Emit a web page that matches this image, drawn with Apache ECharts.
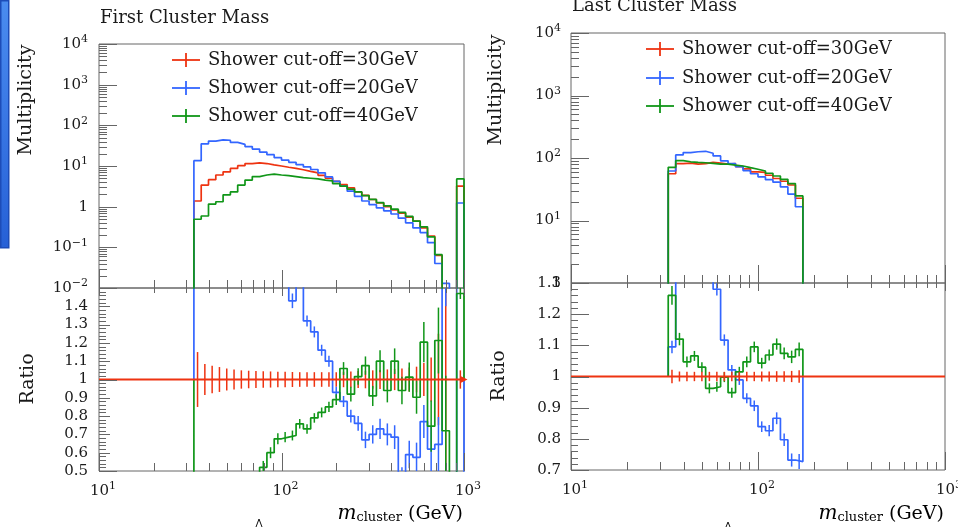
<!DOCTYPE html>
<html><head><meta charset="utf-8">
<script src="https://cdn.jsdelivr.net/npm/echarts@6/dist/echarts.min.js"></script>
<style>html,body{margin:0;padding:0;background:#fff}#c{width:958px;height:527px}</style>
</head><body><div id="c"></div>
<script>
// ---------------- DATA ----------------
const binEdges = [33.11, 36.31, 39.81, 43.65, 47.86, 52.48, 57.54, 63.10, 69.18, 75.86, 83.18, 91.20, 100.0, 109.6, 120.2, 131.8, 144.5, 158.5, 173.8, 190.5, 208.9, 229.1, 251.2, 275.4, 302.0, 331.1, 363.1, 398.1, 436.5, 478.6, 524.8, 575.4, 631.0, 691.8, 758.6, 831.8, 912.0, 1000];
const seriesNames = ['Shower cut-off=30GeV', 'Shower cut-off=20GeV', 'Shower cut-off=40GeV'];
const panelTitles = ['First Cluster Mass', 'Last Cluster Mass'];

// First cluster mass: multiplicity per bin
const firstRed   = [1.38, 3.4, 4.6, 6.0, 7.2, 8.7, 10.2, 11.5, 12.0, 11.5, 10.7, 10.0, 9.3, 8.7, 8.1, 7.4, 6.8, 5.9, 5.0, 4.2, 3.5, 2.9, 2.3, 1.9, 1.5, 1.23, 1.0, 0.83, 0.69, 0.55, 0.44, 0.30, 0.19, 0.063, 0, 0, 3.2];
const firstBlue  = [13.5, 35, 41, 44, 43, 38, 34, 30, 26, 22, 19, 16, 14.0, 12.3, 10.8, 9.5, 8.2, 6.8, 5.4, 4.2, 3.2, 2.4, 1.8, 1.38, 1.12, 0.93, 0.79, 0.66, 0.52, 0.40, 0.30, 0.23, 0.13, 0.04, 0.013, 0, 1.23];
const firstGreen = [0.49, 0.59, 1.16, 1.32, 1.95, 2.3, 3.4, 4.5, 5.5, 6.0, 6.3, 6.0, 5.8, 5.5, 5.2, 5.0, 4.8, 4.5, 4.3, 3.7, 3.2, 2.7, 2.3, 1.86, 1.51, 1.26, 1.05, 0.87, 0.72, 0.58, 0.44, 0.32, 0.18, 0.066, 0, 0, 4.8];
// First cluster mass: ratios to the 30 GeV sample
const firstRatioBlue  = [9.8, 10.3, 8.9, 7.3, 6.0, 4.4, 3.3, 2.6, 2.2, 1.9, 1.8, 1.6, 1.55, 1.43, 1.55, 1.32, 1.26, 1.16, 1.10, 0.93, 0.88, 0.80, 0.76, 0.67, 0.70, 0.73, 0.70, 0.685, 0.45, 0.59, 0.575, 0.77, 0.62, 0.645, 1.7, 1.7, 0.38];
const firstRatioGreen = [0.36, 0.17, 0.25, 0.22, 0.27, 0.26, 0.33, 0.39, 0.46, 0.52, 0.60, 0.676, 0.685, 0.694, 0.758, 0.73, 0.79, 0.82, 0.85, 0.89, 1.06, 0.92, 1.016, 1.076, 0.91, 1.10, 0.94, 1.10, 0.94, 1.013, 0.903, 1.204, 0.745, 1.213, 0.72, 0.3, 1.47];
const firstErrRed   = [0.15, 0.085, 0.075, 0.068, 0.06, 0.055, 0.05, 0.048, 0.046, 0.045, 0.044, 0.043, 0.042, 0.041, 0.04, 0.04, 0.04, 0.04, 0.04, 0.04, 0.042, 0.044, 0.046, 0.048, 0.05, 0.052, 0.055, 0.058, 0.06, 0.065, 0.07, 0.09, 0.12, 0.25, 0.6, 0, 0.05];
const firstErrBlue  = [0.3, 0.2, 0.15, 0.12, 0.1, 0.08, 0.06, 0.05, 0.05, 0.045, 0.04, 0.04, 0.04, 0.04, 0.035, 0.03, 0.03, 0.03, 0.03, 0.03, 0.03, 0.035, 0.04, 0.045, 0.05, 0.055, 0.06, 0.065, 0.07, 0.075, 0.08, 0.09, 0.12, 0.15, 0.3, 0, 0.05];
const firstErrGreen = [0.1, 0.08, 0.07, 0.06, 0.05, 0.05, 0.045, 0.04, 0.04, 0.035, 0.03, 0.03, 0.028, 0.027, 0.026, 0.026, 0.026, 0.027, 0.028, 0.03, 0.035, 0.04, 0.045, 0.05, 0.055, 0.06, 0.065, 0.07, 0.075, 0.08, 0.09, 0.11, 0.14, 0.18, 0.3, 0, 0.03];

// Last cluster mass (18 bins, same binning)
const lastRed   = [56, 81, 83, 80, 81.5, 85, 83, 80, 81, 73, 67, 60, 59, 53, 47, 42.5, 37, 22.7];
const lastBlue  = [62, 112, 122, 126, 128, 119, 108, 90, 81, 72.6, 63, 56, 50, 45, 41, 34.5, 26.5, 16.6];
const lastGreen = [71, 90.6, 87, 85, 84, 82, 80, 80, 77, 74.5, 70, 66, 62, 57, 51.5, 45.6, 39, 24.7];
const lastRatioBlue  = [1.095, 1.38, 1.47, 1.57, 1.58, 1.47, 1.28, 1.117, 1.021, 0.989, 0.930, 0.906, 0.839, 0.826, 0.866, 0.797, 0.732, 0.727];
const lastRatioGreen = [1.26, 1.12, 1.047, 1.066, 1.03, 0.962, 0.967, 0.998, 0.948, 1.015, 1.047, 1.095, 1.043, 1.069, 1.104, 1.074, 1.063, 1.087];
const lastErrRed   = [0.022, 0.016, 0.015, 0.015, 0.015, 0.015, 0.015, 0.015, 0.015, 0.015, 0.015, 0.015, 0.016, 0.016, 0.017, 0.017, 0.018, 0.02];
const lastErrBlue  = [0.02, 0.02, 0.02, 0.02, 0.02, 0.02, 0.02, 0.018, 0.016, 0.016, 0.016, 0.017, 0.017, 0.018, 0.019, 0.02, 0.021, 0.024];
const lastErrGreen = [0.03, 0.02, 0.017, 0.016, 0.016, 0.016, 0.016, 0.016, 0.016, 0.016, 0.017, 0.017, 0.017, 0.018, 0.018, 0.019, 0.02, 0.022];
const refRatio = 1;

// Tick labels
const xLabelVals = [10, 100, 1000];
const xLabels = [['10', '1'], ['10', '2'], ['10', '3']];
const yTopLeftVals = [0.01, 0.1, 1, 10, 100, 1000, 10000];
const yTopLeftLabels = [['10', '−2'], ['10', '−1'], ['1', ''], ['10', '1'], ['10', '2'], ['10', '3'], ['10', '4']];
const yTopRightVals = [1, 10, 100, 1000, 10000];
const yTopRightLabels = [['1', ''], ['10', '1'], ['10', '2'], ['10', '3'], ['10', '4']];
const yRatioLeftVals = [0.5, 0.6, 0.7, 0.8, 0.9, 1.0, 1.1, 1.2, 1.3, 1.4];
const yRatioLeftLabels = [['0.5'], ['0.6'], ['0.7'], ['0.8'], ['0.9'], ['1'], ['1.1'], ['1.2'], ['1.3'], ['1.4']];
const yRatioRightVals = [0.7, 0.8, 0.9, 1.0, 1.1, 1.2, 1.3];
const yRatioRightLabels = [['0.7'], ['0.8'], ['0.9'], ['1'], ['1.1'], ['1.2'], ['1.3']];

// ---------------- STYLE / HELPERS ----------------
const FONT = "'DejaVu Serif', 'Liberation Serif', serif";
const COLORS = ['#ee3311', '#3366ff', '#109618'];
const FRAME = '#666';
const TXT = '#1a1a1a';
const RICH = {
  b: { fontFamily: FONT, fontSize: 15, color: TXT },
  s: { fontFamily: FONT, fontSize: 11, color: TXT, padding: [0, 0, 9, 0] }
};

function stepLine(gi, color, vals, startV, endV, floor, z) {
  const e = binEdges;
  const pts = [[e[0], startV]];
  for (let i = 0; i < vals.length; i++) {
    const v = vals[i] > 0 ? vals[i] : floor;
    pts.push([e[i], v], [e[i + 1], v]);
  }
  pts.push([e[vals.length], endV]);
  return { type: 'line', xAxisIndex: gi, yAxisIndex: gi, data: pts, symbol: 'none', silent: true,
    clip: true, z: z, lineStyle: { color: color, width: 1.7 }, animation: false };
}

function errBars(gi, color, vals, errs, z) {
  const e = binEdges;
  const data = vals.map((v, i) => [Math.sqrt(e[i] * e[i + 1]), v, errs[i]]);
  return { type: 'custom', xAxisIndex: gi, yAxisIndex: gi, data: data, z: z, silent: true, clip: true,
    renderItem(params, api) {
      const x = api.value(0), v = api.value(1), er = api.value(2);
      if (!(er > 0)) return null;
      const a = api.coord([x, v + er]), b = api.coord([x, v - er]);
      return { type: 'line', shape: { x1: a[0], y1: a[1], x2: b[0], y2: b[1] },
        style: { stroke: color, lineWidth: 1.5 } };
    } };
}

function tickSeries(gi, dim, side, ticks, ref) {
  const data = ticks.map(t => dim === 'x' ? [t[0], ref, t[1]] : [ref, t[0], t[1]]);
  return { type: 'custom', xAxisIndex: gi, yAxisIndex: gi, data: data, z: 8, silent: true, clip: false,
    renderItem(params, api) {
      const cs = params.coordSys, len = api.value(2);
      const p = api.coord([api.value(0), api.value(1)]);
      let x1, y1, x2, y2;
      if (dim === 'x') {
        x1 = x2 = Math.round(p[0]) + 0.5;
        if (side === 'bottom') { y1 = cs.y + cs.height; y2 = y1 - len; }
        else { y1 = cs.y; y2 = y1 + len; }
      } else {
        y1 = y2 = Math.round(p[1]) + 0.5;
        x1 = cs.x; x2 = cs.x + len;
      }
      return { type: 'line', shape: { x1, y1, x2, y2 }, style: { stroke: FRAME, lineWidth: 1 } };
    } };
}

function labelSeries(gi, dim, vals, labels, ref, off) {
  const data = vals.map(v => dim === 'x' ? [v, ref] : [ref, v]);
  return { type: 'custom', xAxisIndex: gi, yAxisIndex: gi, data: data, z: 9, silent: true, clip: false,
    renderItem(params, api) {
      const cs = params.coordSys;
      const p = api.coord([api.value(0), api.value(1)]);
      const lab = labels[params.dataIndex];
      const text = lab[1] ? '{b|' + lab[0] + '}{s|' + lab[1] + '}' : '{b|' + lab[0] + '}';
      let x, y, align;
      if (dim === 'x') { x = p[0] + 4; y = cs.y + cs.height + off; align = 'center'; }
      else { x = cs.x - off; y = p[1]; align = 'right'; }
      return { type: 'text', x: x, y: y,
        style: { text: text, rich: RICH, align: align, verticalAlign: 'middle', fill: TXT } };
    } };
}

// tick positions (axis structure)
const logXTicks = [];
[10, 100].forEach(d => { for (let k = 1; k <= 9; k++) logXTicks.push([d * k, k === 1 ? 18 : 8]); });
logXTicks.push([1000, 18]);
const logXTicksTop = logXTicks.map(t => [t[0], t[1] === 18 ? 8 : 5]);
function logYTicks(lo, hi) {
  const out = [];
  for (let d = lo; d < hi * 0.999; d *= 10) for (let k = 1; k <= 9; k++) out.push([+(d * k).toPrecision(6), k === 1 ? 18 : 8]);
  out.push([hi, 18]);
  return out;
}
function linYTicks(lo, hi, longSet, mid) {
  const out = [];
  const n = Math.round((hi - lo) / 0.02);
  for (let i = 0; i <= n; i++) {
    const v = +(lo + i * 0.02).toFixed(2);
    const isTenth = Math.abs(v * 10 - Math.round(v * 10)) < 1e-6;
    let len = 7;
    if (isTenth) len = longSet.some(l => Math.abs(l - v) < 1e-6) ? 18 : mid;
    out.push([v, len]);
  }
  return out;
}

// ---------------- LAYOUT ----------------
const grids = [
  { left: 99, top: 44, width: 365, height: 244 },
  { left: 99, top: 288, width: 365, height: 183 },
  { left: 571, top: 33, width: 374, height: 250 },
  { left: 571, top: 283, width: 374, height: 187 }
].map(g => Object.assign({ show: true, borderColor: FRAME, borderWidth: 1, backgroundColor: 'transparent', containLabel: false }, g));

const hiddenAxis = { axisLine: { show: false }, axisTick: { show: false }, axisLabel: { show: false }, splitLine: { show: false } };
const xAxes = [0, 1, 2, 3].map(i => Object.assign({ type: 'log', logBase: 10, min: 10, max: 1000, gridIndex: i }, hiddenAxis));
const yAxes = [
  Object.assign({ type: 'log', logBase: 10, min: 0.01, max: 10000, gridIndex: 0 }, hiddenAxis),
  Object.assign({ type: 'value', min: 0.5, max: 1.5, gridIndex: 1 }, hiddenAxis),
  Object.assign({ type: 'log', logBase: 10, min: 1, max: 10000, gridIndex: 2 }, hiddenAxis),
  Object.assign({ type: 'value', min: 0.7, max: 1.3, gridIndex: 3 }, hiddenAxis)
];

const redRefLeft = { type: 'line', xAxisIndex: 1, yAxisIndex: 1, silent: true, clip: false, z: 7,
  symbol: 'circle', symbolSize: 0, showSymbol: true,
  data: [[10, refRatio], { value: [1000, refRatio], symbol: 'triangle', symbolSize: 7, symbolRotate: -90,
    itemStyle: { color: COLORS[0] } }],
  lineStyle: { color: COLORS[0], width: 1.8 }, itemStyle: { color: COLORS[0] } };
const redRefRight = { type: 'line', xAxisIndex: 3, yAxisIndex: 3, silent: true, z: 7, symbol: 'none',
  data: [[10, refRatio], [1000, refRatio]], lineStyle: { color: COLORS[0], width: 1.8 } };

const ones = n => binEdges.slice(0, n).map(() => refRatio);

const series = [
  // top-left histograms
  stepLine(0, COLORS[0], firstRed, 1e-4, 1e-4, 1e-4, 3),
  stepLine(0, COLORS[1], firstBlue, 1e-4, 1e-4, 1e-4, 4),
  stepLine(0, COLORS[2], firstGreen, 1e-4, 1e-4, 1e-4, 5),
  // bottom-left ratios
  errBars(1, COLORS[0], ones(37), firstErrRed, 3),
  stepLine(1, COLORS[1], firstRatioBlue, refRatio, refRatio, 0.01, 4),
  errBars(1, COLORS[1], firstRatioBlue, firstErrBlue, 4),
  stepLine(1, COLORS[2], firstRatioGreen, refRatio, refRatio, 0.01, 5),
  errBars(1, COLORS[2], firstRatioGreen, firstErrGreen, 5),
  redRefLeft,
  // top-right histograms
  stepLine(2, COLORS[0], lastRed, 0.01, 0.01, 0.01, 3),
  stepLine(2, COLORS[1], lastBlue, 0.01, 0.01, 0.01, 4),
  stepLine(2, COLORS[2], lastGreen, 0.01, 0.01, 0.01, 5),
  // bottom-right ratios
  errBars(3, COLORS[0], ones(18), lastErrRed, 6),
  stepLine(3, COLORS[1], lastRatioBlue, refRatio, refRatio, 0.01, 4),
  errBars(3, COLORS[1], lastRatioBlue, lastErrBlue, 4),
  stepLine(3, COLORS[2], lastRatioGreen, refRatio, refRatio, 0.01, 5),
  errBars(3, COLORS[2], lastRatioGreen, lastErrGreen, 5),
  redRefRight,
  // ticks
  tickSeries(0, 'x', 'bottom', logXTicks, 1),
  tickSeries(1, 'x', 'bottom', logXTicks, 1),
  tickSeries(1, 'x', 'top', logXTicksTop, 1),
  tickSeries(2, 'x', 'bottom', logXTicks, 10),
  tickSeries(3, 'x', 'bottom', logXTicks, 1),
  tickSeries(3, 'x', 'top', logXTicksTop, 1),
  tickSeries(0, 'y', 'left', logYTicks(0.01, 10000), 10),
  tickSeries(2, 'y', 'left', logYTicks(1, 10000), 10),
  tickSeries(1, 'y', 'left', linYTicks(0.5, 1.5, [0.5, 1.0, 1.5], 11), 10),
  tickSeries(3, 'y', 'left', linYTicks(0.7, 1.3, [0.7, 0.8, 0.9, 1.0, 1.1, 1.2, 1.3], 18), 10),
  // labels
  labelSeries(0, 'y', yTopLeftVals, yTopLeftLabels, 10, 11),
  labelSeries(1, 'y', yRatioLeftVals, yRatioLeftLabels, 10, 11),
  labelSeries(1, 'x', xLabelVals, xLabels, 1, 20),
  labelSeries(2, 'y', yTopRightVals, yTopRightLabels, 10, 10),
  labelSeries(3, 'y', yRatioRightVals, yRatioRightLabels, 10, 10),
  labelSeries(3, 'x', xLabelVals, xLabels, 1, 20)
];

// ---------------- GRAPHIC (titles, legends, axis names) ----------------
const graphic = [];
graphic.push({ type: 'rect', left: 0, top: 0, shape: { x: 0, y: 0, width: 8, height: 247 }, z: 1,
  style: { fill: new echarts.graphic.LinearGradient(0, 0, 1, 1, [{ offset: 0, color: '#4a8cf0' }, { offset: 1, color: '#2660d6' }]),
    stroke: '#1d4cb8', lineWidth: 1.5 } });
function addLegend(x0, rows) {
  rows.forEach((y, i) => {
    graphic.push({ type: 'line', shape: { x1: x0, y1: y, x2: x0 + 28, y2: y }, style: { stroke: COLORS[i], lineWidth: 1.8 } });
    graphic.push({ type: 'line', shape: { x1: x0 + 14, y1: y - 7, x2: x0 + 14, y2: y + 7 }, style: { stroke: COLORS[i], lineWidth: 1.8 } });
    graphic.push({ type: 'text', x: x0 + 36, y: y, style: { text: seriesNames[i], fontFamily: FONT, fontSize: 18,
      fill: TXT, verticalAlign: 'middle', align: 'left' } });
  });
}
addLegend(172, [60, 88, 116]);
addLegend(646, [49, 78, 106]);
graphic.push({ type: 'text', x: 100, y: 18, style: { text: panelTitles[0], fontFamily: FONT, fontSize: 18, fill: TXT, verticalAlign: 'middle' } });
graphic.push({ type: 'text', x: 572, y: 6, style: { text: panelTitles[1], fontFamily: FONT, fontSize: 18, fill: TXT, verticalAlign: 'middle' } });
function vname(x, y, t) {
  graphic.push({ type: 'text', x: x, y: y, rotation: Math.PI / 2,
    style: { text: t, fontFamily: FONT, fontSize: 19, fill: TXT, align: 'center', verticalAlign: 'middle' } });
}
vname(26, 100, 'Multiplicity'); vname(28, 379, 'Ratio');
vname(496, 90, 'Multiplicity'); vname(499, 376, 'Ratio');
const XRICH = {
  m: { fontFamily: FONT, fontSize: 20, fontStyle: 'italic', color: TXT },
  c: { fontFamily: FONT, fontSize: 13, color: TXT, padding: [8, 0, 0, 0] },
  g: { fontFamily: FONT, fontSize: 19, color: TXT }
};
function xname(xr) {
  graphic.push({ type: 'text', x: xr, y: 514, style: { text: '{m|m}{c|cluster}{g| (GeV)}', rich: XRICH, align: 'right', verticalAlign: 'middle' } });
}
xname(463); xname(944);
// small cursor marks at the bottom edge
graphic.push({ type: 'polyline', shape: { points: [[256, 527], [259, 519], [262, 527]] }, style: { stroke: '#111', lineWidth: 1, fill: null } });
graphic.push({ type: 'polyline', shape: { points: [[726, 527], [728, 522], [730, 527]] }, style: { stroke: '#111', lineWidth: 1, fill: null } });

const chart = echarts.init(document.getElementById('c'), null, { renderer: 'canvas' });
chart.setOption({
  animation: false,
  backgroundColor: '#fff',
  grid: grids,
  xAxis: xAxes,
  yAxis: yAxes,
  series: series,
  graphic: graphic
});
</script>
</body></html>
